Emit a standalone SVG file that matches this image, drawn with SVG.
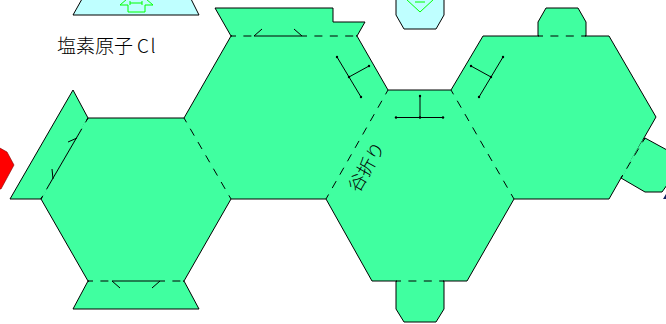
<svg xmlns="http://www.w3.org/2000/svg" width="666" height="324" viewBox="0 0 666 324">
<style>
.f{fill:#40ffa0;stroke:#000;stroke-width:1;stroke-linejoin:round}
.b{fill:#bfffff;stroke:#000;stroke-width:1}
.g{fill:none;stroke:#00ff00;stroke-width:1}
.d{fill:none;stroke:#000;stroke-width:1;stroke-dasharray:8 7.4;stroke-dashoffset:3}
.m{fill:none;stroke:#000;stroke-width:1}
.e{marker-start:url(#dot);marker-end:url(#dot)}
.t{font-family:"Noto Sans CJK JP","Noto Sans CJK SC",sans-serif;font-weight:300;fill:#000}
</style>
<defs><marker id="dot" markerUnits="userSpaceOnUse" markerWidth="4" markerHeight="4" refX="2" refY="2"><circle cx="2" cy="2" r="1.2" fill="#000"/></marker></defs>
<g id="blue-top-left"><path class="b" d="M82 -1L73 15H199L191 -1"/><path class="g" d="M127 -1L120 5H128V12H145V5H153L146 -1M130 3H142M130 1V5M142 1V5"/></g>
<g id="blue-top-right"><path class="b" d="M396 -1V15L404 29H436L444 15V-1"/><path class="g" d="M406 -1L420 12L434 -1M415 2H425"/></g>
<g id="red"><path d="M-2 147L7 152L14 165L1 189H-2Z" fill="#f00" stroke="#800000" stroke-width="0.6"/></g>
<g id="corner-mark"><path d="M663 199L666 194V199Z" fill="#102060"/></g>
<g id="tabs">
<path class="f" d="M231 36L215 8H333V22H365L357 36Z"/>
<path class="f" d="M538 36V22L546 8H578L586 22V36Z"/>
<path class="f" d="M396 281V309L404 322H436L444 309V281Z"/>
<path class="f" d="M88 281L73 309H199L184 281Z"/>
<path class="f" d="M41 199H10L73 90L88 118Z"/>
<path class="f" d="M645 138L667 150V185L662 192H645L621 178Z"/>
</g>
<g id="body"><path class="f" d="M88 118H184L231 36H357L388 90H451L483 36H609L656 117L621 178L609 199H514L467 281H372L326 199H231L184 281H88L41 199Z"/></g>
<g id="connectors">
<path d="M232 36H356M539 36H585M397 281H443M89 281H183M87 120L42 197M644 140L622 176M185 120L230 197M387 92L327 197M452 92L513 197" stroke="#40ffa0" stroke-width="2" fill="none"/>
<path class="d" d="M231 36H254M302 36H357"/><path class="d" d="M538 36H586"/><path class="d" d="M396 281H444"/><path class="d" d="M88 281H112M160 281H184"/>
<path class="d" d="M88 118L80.5 131M49 185L41 199"/><path class="d" d="M645 138L621 178"/><path class="d" d="M184 118L231 199"/><path class="d" d="M388 90L326 199"/><path class="d" d="M451 90L514 199"/>
<path class="m" d="M254 36H302M254 36L262 29M302 36L294 29M112 281H160M112 281L120 288M160 281L152 288M80.5 131L49 185M77 138L68 142M53 179L52 169"/>
<path class="m e" d="M337 57L361 97"/><path class="m e" d="M349 77L369 66"/><path class="m e" d="M396 117.5H443"/><path class="m e" d="M420 96V117.5"/><path class="m e" d="M503 57L479 97"/><path class="m e" d="M491 77L471 66"/>
</g>
<text class="t" x="57" y="53" font-size="19">塩素原子<tspan x="137" letter-spacing="1.5">Cl</tspan></text>
<text class="t" font-size="18" transform="translate(358.5 193.5) rotate(-60)">谷折り</text>
</svg>
